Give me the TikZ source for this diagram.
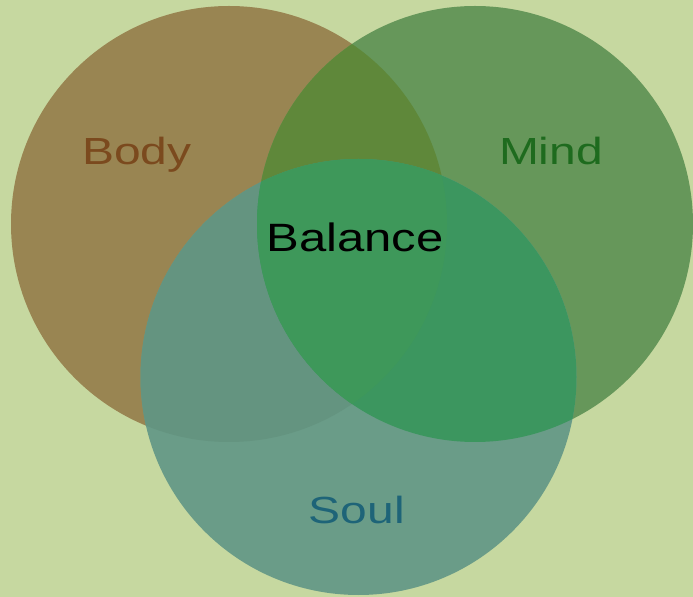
\documentclass[tikz,border=0pt]{standalone}
\usepackage{fontspec}
\setmainfont{Liberation Sans}
\definecolor{bg}{HTML}{C6D8A0}
\definecolor{cbody}{HTML}{998552}
\definecolor{cmind}{HTML}{66975A}
\definecolor{csoul}{HTML}{6A9C88}
\definecolor{cbm}{HTML}{5F883A}
\definecolor{cbs}{HTML}{649480}
\definecolor{cms}{HTML}{3C965F}
\definecolor{cbms}{HTML}{3E985A}
\definecolor{tbody}{HTML}{7B4A1E}
\definecolor{tmind}{HTML}{1E6B1E}
\definecolor{tsoul}{HTML}{1E6478}
\newcommand{\wide}[1]{\scalebox{1.27}[1]{#1}}
\begin{document}
\begin{tikzpicture}[x=0.02cm,y=-0.02cm,
  lbl/.style={anchor=base,inner sep=0pt,font=\fontsize{21.5}{24}\selectfont},
  bigl/.style={anchor=base,inner sep=0pt,font=\fontsize{22.5}{26}\selectfont}]
\fill[bg] (0,0) rectangle (693,597);
\useasboundingbox (0,0) rectangle (693,597);
\coordinate (B) at (229,224);
\coordinate (M) at (475,224);
\coordinate (S) at (358.5,377);
\def\rr{218}
\fill[cbody] (B) circle[radius=\rr];
\fill[cmind] (M) circle[radius=\rr];
\fill[csoul] (S) circle[radius=\rr];
\begin{scope}
  \clip (B) circle[radius=\rr];
  \fill[cbm] (M) circle[radius=\rr];
  \fill[cbs] (S) circle[radius=\rr];
\end{scope}
\begin{scope}
  \clip (M) circle[radius=\rr];
  \fill[cms] (S) circle[radius=\rr];
\end{scope}
\begin{scope}
  \clip (B) circle[radius=\rr];
  \clip (M) circle[radius=\rr];
  \fill[cbms] (S) circle[radius=\rr];
\end{scope}
\node[lbl,text=tbody] (body) at (137,165) {\wide{Body}};
\node[lbl,text=tmind] (mind) at (551,165) {\wide{Mind}};
\node[lbl,text=tsoul] (soul) at (357,523) {\wide{Soul}};
\node[bigl,text=black] (balance) at (355,252) {\scalebox{1.24}[1]{Balance}};
\end{tikzpicture}
\end{document}
